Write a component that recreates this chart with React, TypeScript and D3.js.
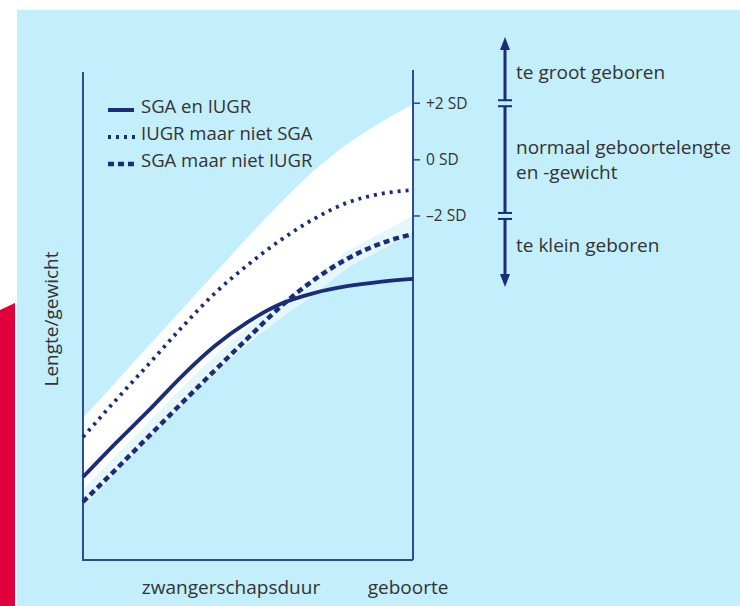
import React from "react";
import * as d3 from "d3";

// gestational progress (0 = early, 100 = geboorte)
const xs = [0, 10, 20, 30, 40, 50, 60, 70, 80, 90, 100];
// length/weight (arbitrary units)
const sgaIugr = [17.0, 24.0, 30.7, 37.7, 43.9, 48.8, 52.5, 54.7, 56.1, 57.0, 57.6];
const iugrNotSga = [25.2, 32.8, 40.2, 47.7, 54.7, 60.5, 65.6, 69.9, 73.2, 75.0, 75.8];
const sgaNotIugr = [11.9, 18.6, 25.4, 32.2, 38.9, 45.5, 52.0, 57.4, 61.7, 64.8, 66.8];
const bandUpper = [29.1, 36.5, 44.0, 51.4, 58.8, 66.2, 73.3, 79.8, 85.2, 89.6, 93.4];
const bandLower = [14.3, 21.3, 28.3, 35.2, 41.8, 47.7, 52.9, 57.8, 63.1, 66.8, 70.5];

const sdTicks = [
  { label: "+2 SD", value: 93.6 },
  { label: "0 SD", value: 82.0 },
  { label: "\u20132 SD", value: 70.5 },
];
const legendItems = [
  { label: "SGA en IUGR", dash: "none", width: 4 },
  { label: "IUGR maar niet SGA", dash: "3 5", width: 3.8 },
  { label: "SGA maar niet IUGR", dash: "6 4", width: 4.5 },
];

const NAVY = "#1b2c78";
const AXIS = "#2d4d8c";
const TEXT = "#333333";
const BG = "#c3eefb";
const FONT = "'Open Sans', 'Noto Sans', sans-serif";

export default function App() {
  const x = d3.scaleLinear().domain([0, 100]).range([83, 413]);
  const y = d3.scaleLinear().domain([0, 100]).range([560, 72]);

  const line = (vals: number[]) =>
    d3
      .line<number>()
      .x((_, i) => x(xs[i]))
      .y((d) => y(d))
      .curve(d3.curveMonotoneX)(vals) as string;

  const area = (lo: number[], hi: number[]) =>
    d3
      .area<number>()
      .x((_, i) => x(xs[i]))
      .y0((_, i) => y(lo[i]))
      .y1((_, i) => y(hi[i]))
      .curve(d3.curveMonotoneX)(xs) as string;

  const paleLower = bandLower.map((v) => v - 3.4);

  const arrowX = 505;
  const sdY = sdTicks.map((t) => y(t.value));
  const arrowTop = 37;
  const arrowBottom = 287;

  return (
    <svg
      width={740}
      height={606}
      style={{ position: "absolute", left: 0, top: 0 }}
      fontFamily={FONT}
    >
      <rect x={0} y={0} width={740} height={606} fill="#ffffff" />
      <rect x={17} y={10} width={723} height={596} fill={BG} />
      <polygon points="0,310 15,303 15,606 0,606" fill="#e0003e" />

      {/* bands */}
      <path d={area(paleLower, bandLower)} fill="#e3f7fd" />
      <path d={area(bandLower, bandUpper)} fill="#ffffff" />

      {/* axes */}
      <line x1={x(0)} x2={x(0)} y1={y(100)} y2={y(0)} stroke={AXIS} strokeWidth={2} />
      <line x1={x(0) - 1} x2={x(100)} y1={y(0)} y2={y(0)} stroke={AXIS} strokeWidth={2} />
      <line x1={x(100)} x2={x(100)} y1={y(100) - 2} y2={y(0)} stroke={AXIS} strokeWidth={2} />

      {/* SD ticks */}
      {sdTicks.map((t) => (
        <g key={t.label}>
          <line x1={x(100)} x2={x(100) + 7} y1={y(t.value)} y2={y(t.value)} stroke={AXIS} strokeWidth={1.5} />
          <text x={x(100) + 13} y={y(t.value)} dy="0.35em" fontSize={15.5} fill={TEXT}>
            {t.label}
          </text>
        </g>
      ))}

      {/* curves */}
      <path d={line(sgaNotIugr)} fill="none" stroke={NAVY} strokeWidth={4.5} strokeDasharray="6 4" />
      <path d={line(iugrNotSga)} fill="none" stroke={NAVY} strokeWidth={3.8} strokeDasharray="3 5" />
      <path d={line(sgaIugr)} fill="none" stroke={NAVY} strokeWidth={3.8} />

      {/* legend */}
      {legendItems.map((it, i) => {
        const ly = 107 + i * 27;
        return (
          <g key={it.label}>
            <line
              x1={108}
              x2={i === 0 ? 134 : 136}
              y1={ly + 3}
              y2={ly + 3}
              stroke={NAVY}
              strokeWidth={it.width}
              strokeDasharray={it.dash}
            />
            <text x={141} y={ly} dy="0.35em" fontSize={18.5} fill={TEXT}>
              {it.label}
            </text>
          </g>
        );
      })}

      {/* y label */}
      <text
        transform={`translate(58,${319}) rotate(-90)`}
        textAnchor="middle"
        fontSize={19}
        fill={TEXT}
      >
        Lengte/gewicht
      </text>

      {/* x labels */}
      <text x={231} y={587} dy="0.35em" textAnchor="middle" fontSize={19} fill={TEXT}>
        zwangerschapsduur
      </text>
      <text x={408} y={587} dy="0.35em" textAnchor="middle" fontSize={19} fill={TEXT}>
        geboorte
      </text>

      {/* right annotation arrow */}
      <line x1={arrowX} x2={arrowX} y1={arrowTop + 10} y2={sdY[0] - 3} stroke={NAVY} strokeWidth={3} />
      <line x1={arrowX} x2={arrowX} y1={sdY[0] + 3} y2={sdY[2] - 3} stroke={NAVY} strokeWidth={3} />
      <line x1={arrowX} x2={arrowX} y1={sdY[2] + 3} y2={arrowBottom - 10} stroke={NAVY} strokeWidth={3} />
      <polygon
        points={`${arrowX},${arrowTop} ${arrowX - 5},${arrowTop + 13} ${arrowX + 5},${arrowTop + 13}`}
        fill={NAVY}
      />
      <polygon
        points={`${arrowX},${arrowBottom} ${arrowX - 5},${arrowBottom - 13} ${arrowX + 5},${arrowBottom - 13}`}
        fill={NAVY}
      />
      {[sdY[0], sdY[2]].map((sy, i) => (
        <g key={i}>
          <line x1={arrowX - 7} x2={arrowX + 7} y1={sy - 3} y2={sy - 3} stroke={NAVY} strokeWidth={2} />
          <line x1={arrowX - 7} x2={arrowX + 7} y1={sy + 3} y2={sy + 3} stroke={NAVY} strokeWidth={2} />
        </g>
      ))}
      <text x={516} y={72} dy="0.35em" fontSize={19} fill={TEXT}>
        te groot geboren
      </text>
      <text x={516} y={147} dy="0.35em" fontSize={19} fill={TEXT}>
        normaal geboortelengte
      </text>
      <text x={516} y={172} dy="0.35em" fontSize={19} fill={TEXT}>
        en -gewicht
      </text>
      <text x={516} y={245} dy="0.35em" fontSize={19} fill={TEXT}>
        te klein geboren
      </text>
    </svg>
  );
}
